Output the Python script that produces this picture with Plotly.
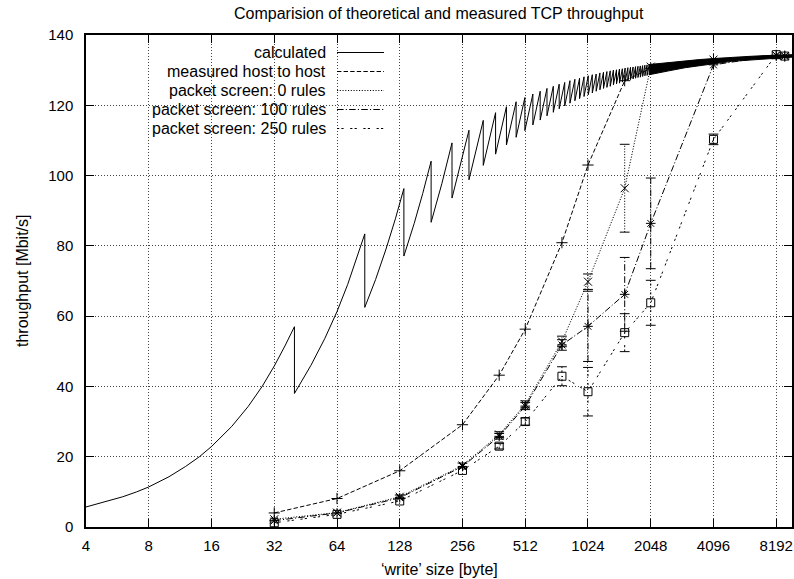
import math
import plotly.graph_objects as go

# ---------------- data ----------------
x_tick_vals = [4, 8, 16, 32, 64, 128, 256, 512, 1024, 2048, 4096, 8192]
x_tick_text = ["4", "8", "16", "32", "64", "128", "256", "512", "1024", "2048", "4096", "8192"]
y_tick_vals = [0, 20, 40, 60, 80, 100, 120, 140]

# calculated curve: early smooth part (vertices)
calc_x = [4, 5, 6, 7, 8, 10, 12, 14, 16, 20, 24, 28, 32, 36, 40,
          40, 48, 56, 64, 72, 80, 87,
          87, 98, 110, 122, 134,
          134, 150, 165, 181,
          181, 204, 228,
          228, 251]
calc_y = [5.7, 7.2, 8.6, 10.0, 11.4, 14.3, 17.2, 20.0, 22.9, 28.6, 34.3, 40.0, 45.8, 51.5, 57.0,
          38.0, 46.0, 53.7, 61.3, 69.0, 76.7, 83.4,
          62.5, 70.4, 79.1, 87.7, 96.3,
          77.1, 86.3, 94.9, 104.1,
          86.7, 97.8, 109.3,
          93.6, 103.2]
# sawtooth teeth of the calculated curve (peak then drop)
tooth_x = [275, 322, 369, 416, 463, 510, 557, 604, 651, 698, 745, 792, 839, 886, 933, 980,
           1027, 1074, 1121, 1168, 1215, 1262, 1309, 1356, 1403, 1450, 1497, 1544, 1591,
           1638, 1685, 1732, 1779, 1826, 1873, 1920, 1967, 2014]
tooth_peak = [112.9, 115.7, 117.9, 119.6, 121.0, 122.2, 123.2, 124.0, 124.8, 125.4, 126.0,
              126.5, 127.0, 127.4, 127.7, 128.1, 128.4, 128.7, 128.9, 129.2, 129.4, 129.6,
              129.8, 130.0, 130.1, 130.3, 130.4, 130.6, 130.7, 130.8, 130.9, 131.0, 131.1,
              131.2, 131.3, 131.4, 131.5, 131.6]
tooth_trough = [98.8, 102.9, 106.1, 108.7, 110.9, 112.8, 114.4, 115.8, 117.0, 118.0, 119.0,
                119.8, 120.6, 121.3, 121.9, 122.5, 123.0, 123.5, 124.0, 124.4, 124.8, 125.1,
                125.4, 125.8, 126.1, 126.3, 126.6, 126.8, 127.1, 127.3, 127.5, 127.7, 127.9,
                128.0, 128.2, 128.4, 128.5, 128.7]
# very dense sawtooth region drawn as its envelope
band_x = [2014, 2500, 3000, 3500, 4096, 5000, 6000, 7000, 8192, 9750]
band_upper = [131.6, 132.2, 132.7, 133.0, 133.3, 133.7, 133.9, 134.1, 134.2, 134.4]
band_lower = [128.7, 129.8, 130.7, 131.3, 131.8, 132.5, 132.9, 133.2, 133.4, 133.7]

write_sizes = [32, 64, 128, 256, 384, 512, 768, 1024, 1536, 2048, 4096, 8192, 9000]
host_to_host = [4.0, 8.1, 16.0, 29.1, 43.2, 56.3, 80.9, 103.0, 127.0, 130.5, 133.0, 134.2, 134.0]
host_to_host_err = [0, 0, 0, 0, 0, 0, 0, 0, 0, 0, 0, 0, 0]
rules_0 = [2.2, 4.1, 8.6, 17.5, 26.3, 34.9, 52.8, 69.8, 96.4, 131.0, 133.0, 134.2, 134.0]
rules_0_err = [0, 0, 0.5, 0.7, 0.8, 1.0, 1.5, 2.2, 12.5, 0, 0, 0, 0]
rules_100 = [1.8, 4.0, 8.3, 17.2, 25.8, 34.4, 51.8, 57.1, 66.2, 86.4, 131.5, 134.2, 134.0]
rules_100_err = [0, 0, 0, 0, 0.8, 1.0, 1.5, 10.0, 10.5, 12.9, 0, 0, 0]
rules_250 = [1.2, 3.6, 7.4, 16.1, 23.0, 30.0, 42.9, 38.5, 55.3, 63.8, 110.3, 134.4, 134.0]
rules_250_err = [0, 0, 0, 0, 0.8, 1.0, 2.7, 6.9, 5.4, 6.4, 1.5, 0, 0]

legend_labels = ["calculated", "measured host to host", "packet screen: 0 rules",
                 "packet screen: 100 rules", "packet screen: 250 rules"]

# ---------------- styles ----------------
FONT = "Liberation Sans, Arial, Helvetica, sans-serif"
FS_TICK = 15
FS_TEXT = 16
dashes = ["solid", "4.4px,2.2px", "1.1px,1.65px", "6.6px,2.2px,1.1px,2.2px", "2.2px,2.2px,2.2px,6.6px"]
symbols = [None, "cross-thin-open", "x-thin-open", "asterisk-open", "square-open"]

fig = go.Figure()

# calculated curve
cx = list(calc_x)
cy = list(calc_y)
for xv, pk, tr in zip(tooth_x, tooth_peak, tooth_trough):
    cx += [xv, xv]
    cy += [pk, tr]
fig.add_trace(go.Scatter(x=cx, y=cy, mode="lines", line=dict(color="black", width=1),
                         showlegend=False, hoverinfo="skip"))
fig.add_trace(go.Scatter(x=band_x + band_x[::-1], y=band_upper + band_lower[::-1],
                         mode="lines", fill="toself", fillcolor="black",
                         line=dict(color="black", width=1), showlegend=False, hoverinfo="skip"))

series = [(host_to_host, host_to_host_err), (rules_0, rules_0_err),
          (rules_100, rules_100_err), (rules_250, rules_250_err)]
for i, (vals, errs) in enumerate(series, start=1):
    # error bars drawn in the series' line style
    ex, ey, capx, capy = [], [], [], []
    for xv, yv, ev in zip(write_sizes, vals, errs):
        if ev > 0:
            ex += [xv, xv, None]
            ey += [yv - ev, yv + ev, None]
            capx += [xv, xv]
            capy += [yv - ev, yv + ev]
    if ex:
        fig.add_trace(go.Scatter(x=ex, y=ey, mode="lines",
                                 line=dict(color="black", width=1, dash=dashes[i]),
                                 showlegend=False, hoverinfo="skip"))
        fig.add_trace(go.Scatter(x=capx, y=capy, mode="markers",
                                 marker=dict(symbol="line-ew-open", size=7, color="black",
                                             line=dict(color="black", width=1)),
                                 showlegend=False, hoverinfo="skip"))
    fig.add_trace(go.Scatter(x=write_sizes, y=vals, mode="lines+markers",
                             line=dict(color="black", width=1, dash=dashes[i]),
                             marker=dict(symbol=symbols[i], size=8, color="black",
                                         line=dict(color="black", width=1)),
                             name=legend_labels[i], showlegend=False))

# ---------------- layout ----------------
W, H = 794, 579
ml, mr, mt, mb = 86, 2, 35, 52
pw, ph = W - ml - mr, H - mt - mb

def px2paper_x(px):
    return (px - ml) / pw

def px2paper_y(py):
    return (H - mb - py) / ph

shapes = []
# opaque legend area (covers the grid, like the reference)
shapes.append(dict(type="rect", xref="paper", yref="paper", x0=0, x1=px2paper_x(393),
                   y0=px2paper_y(139), y1=1, fillcolor="white", line=dict(width=0),
                   layer="between"))
annotations = []
for k, lab in enumerate(legend_labels):
    py = 52.5 + 19 * k
    annotations.append(dict(text=lab, xref="paper", yref="paper", x=px2paper_x(328),
                            y=px2paper_y(py), xanchor="right", yanchor="middle",
                            showarrow=False, font=dict(family=FONT, size=FS_TEXT, color="black")))
    shapes.append(dict(type="line", xref="paper", yref="paper", x0=px2paper_x(337),
                       x1=px2paper_x(384), y0=px2paper_y(py), y1=px2paper_y(py),
                       line=dict(color="black", width=1, dash=dashes[k]), layer="above"))

annotations.append(dict(text="Comparision of theoretical and measured TCP throughput",
                        xref="paper", yref="paper", x=0.5, y=px2paper_y(13),
                        xanchor="center", yanchor="middle", showarrow=False,
                        font=dict(family=FONT, size=FS_TEXT, color="black")))
annotations.append(dict(text="\u2018write\u2019 size [byte]", xref="paper", yref="paper",
                        x=0.5, y=px2paper_y(569), xanchor="center", yanchor="middle",
                        showarrow=False, font=dict(family=FONT, size=FS_TEXT, color="black")))
annotations.append(dict(text="throughput [Mbit/s]", xref="paper", yref="paper",
                        x=px2paper_x(22), y=0.5, xanchor="center", yanchor="middle",
                        textangle=-90, showarrow=False,
                        font=dict(family=FONT, size=FS_TEXT, color="black")))

axis_common = dict(showline=True, linecolor="black", linewidth=1.5, mirror="ticks",
                   ticks="inside", ticklen=8, tickwidth=1, tickcolor="black",
                   showgrid=True, gridcolor="#444", gridwidth=1, griddash="1px,2px",
                   zeroline=False, automargin=False,
                   tickfont=dict(family=FONT, size=FS_TICK, color="black"))

fig.update_layout(
    width=W, height=H, margin=dict(l=ml, r=mr, t=mt, b=mb, autoexpand=False),
    paper_bgcolor="white", plot_bgcolor="white", showlegend=False,
    xaxis=dict(type="log", range=[math.log10(4), math.log10(9750)],
               tickvals=x_tick_vals, ticktext=x_tick_text, ticklabelstandoff=4, **axis_common),
    yaxis=dict(range=[0, 140], tickvals=y_tick_vals, ticklabelstandoff=8, **axis_common),
    shapes=shapes, annotations=annotations,
)

fig.write_html("out.html", config={"displayModeBar": False},
               post_script="document.body.style.margin='0px';document.body.style.overflow='hidden';")
